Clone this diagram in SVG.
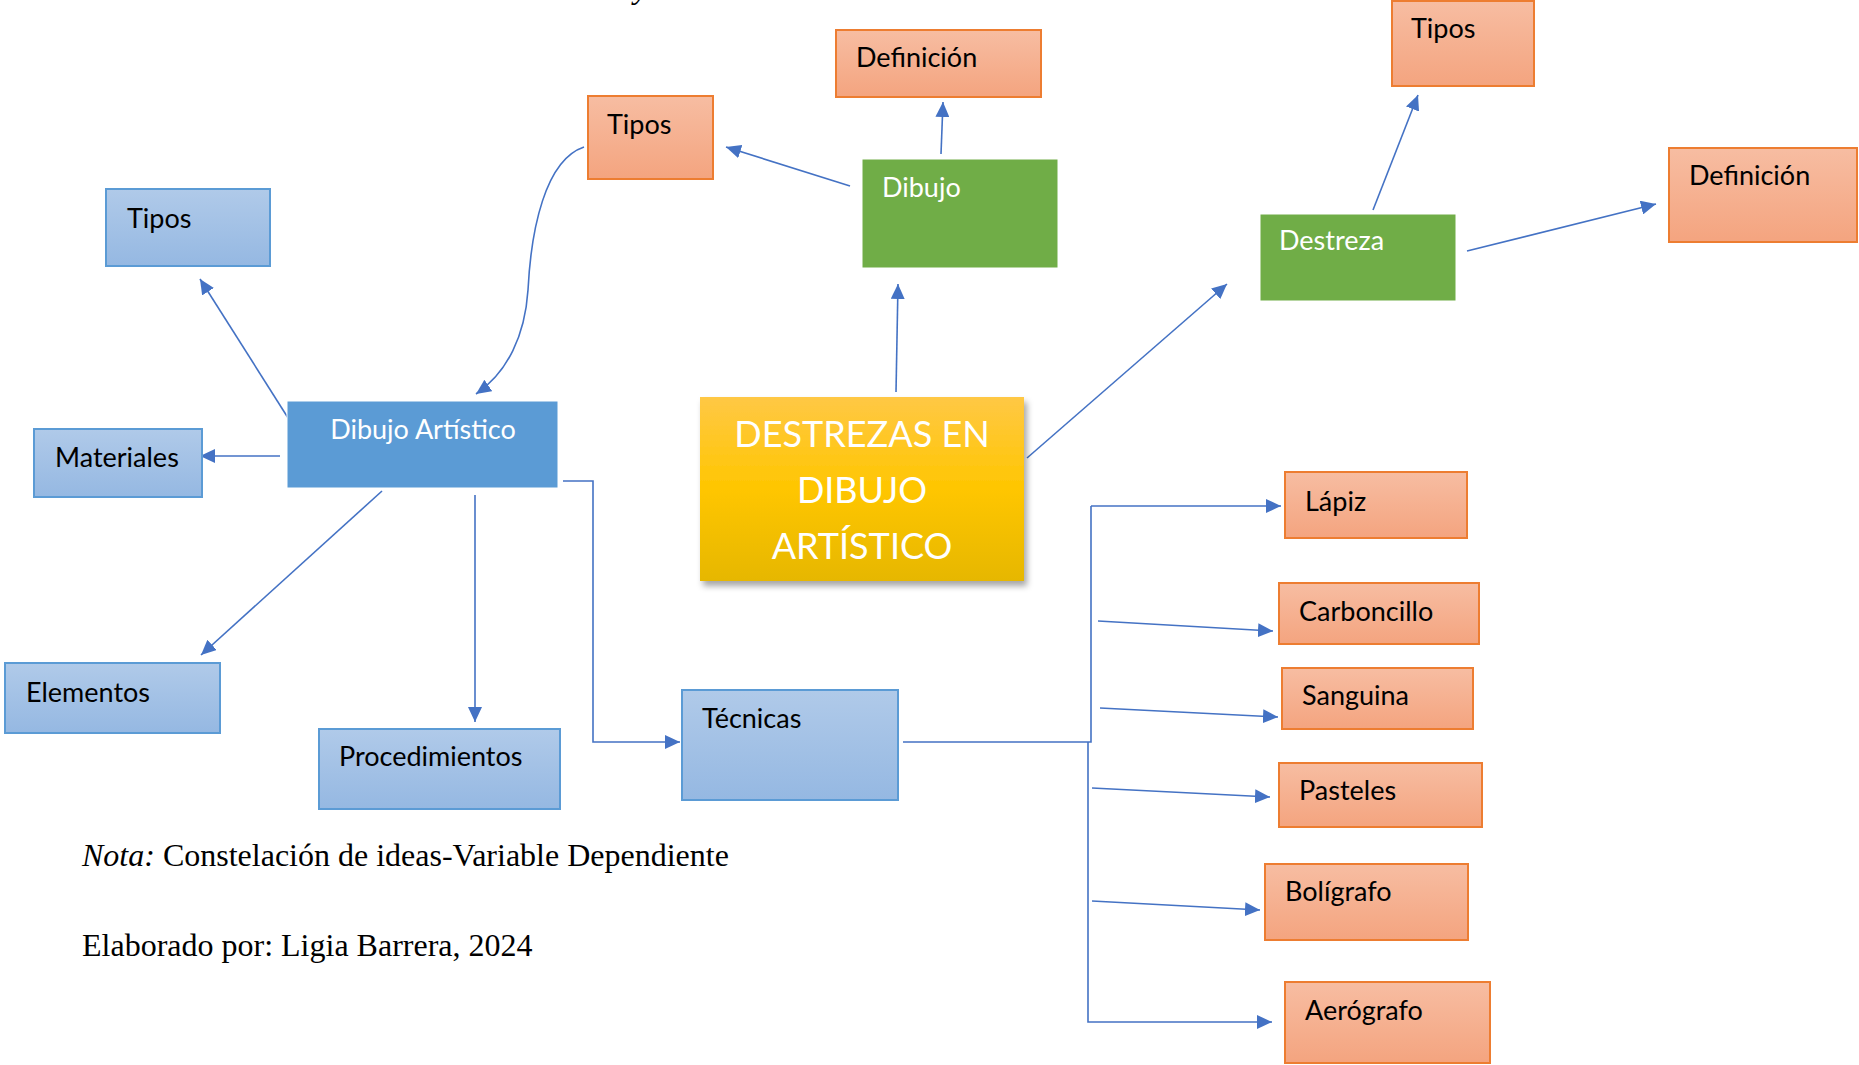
<svg xmlns="http://www.w3.org/2000/svg" width="1859" height="1065" viewBox="0 0 1859 1065">
<style>
.lbl{font-family:Lato,"Open Sans","Liberation Sans",sans-serif;font-size:27px;fill:#000}
.wht{fill:#fff}
.org{fill:url(#gO);stroke:#ED7D31;stroke-width:2}
.blu{fill:url(#gB);stroke:#5B9BD5;stroke-width:2}
.grn{fill:#70AD47;stroke:#fff;stroke-width:1}
.con{fill:none;stroke:#4472C4;stroke-width:1.6}
.arr{marker-end:url(#ah)}
.note{font-family:"Liberation Serif","Times New Roman",serif;font-size:32px;fill:#000}
</style>
<defs>
<linearGradient id="gO" x1="0" y1="0" x2="0" y2="1"><stop offset="0" stop-color="#F7BDA2"/><stop offset="1" stop-color="#F4A47F"/></linearGradient>
<linearGradient id="gB" x1="0" y1="0" x2="0" y2="1"><stop offset="0" stop-color="#B0CAE9"/><stop offset="1" stop-color="#95B8E2"/></linearGradient>
<linearGradient id="gY" x1="0" y1="0" x2="0" y2="1"><stop offset="0" stop-color="#FFC845"/><stop offset="0.5" stop-color="#FFC600"/><stop offset="1" stop-color="#E6B700"/></linearGradient>
<filter id="sh" x="-10%" y="-10%" width="125%" height="130%"><feDropShadow dx="3" dy="5" stdDeviation="3" flood-color="#000" flood-opacity="0.35"/></filter>
<marker id="ah" markerUnits="userSpaceOnUse" markerWidth="16" markerHeight="14" refX="15" refY="7" orient="auto"><path d="M0,0 L15,7 L0,14 z" fill="#4472C4"/></marker>
</defs>
<rect width="1859" height="1065" fill="#fff"/>
<text class="note" x="634" y="-2" font-style="italic">y</text>

<g id="connectors">
<line class="con arr" x1="896" y1="392" x2="898" y2="284"/>
<line class="con arr" x1="941" y1="154" x2="943" y2="102"/>
<line class="con arr" x1="850" y1="186" x2="726" y2="147"/>
<path class="con arr" d="M584,147 C545,160 531,230 528,290 C525,335 508,372 476,394"/>
<line class="con arr" x1="290" y1="421" x2="200" y2="279"/>
<line class="con arr" x1="280" y1="456" x2="200" y2="456"/>
<line class="con arr" x1="382" y1="491" x2="201" y2="655"/>
<line class="con arr" x1="475" y1="495" x2="475" y2="722"/>
<polyline class="con arr" points="563,481 593,481 593,742 680,742"/>
<line class="con arr" x1="1027" y1="458" x2="1227" y2="284"/>
<line class="con arr" x1="1373" y1="210" x2="1418" y2="95"/>
<line class="con arr" x1="1467" y1="251" x2="1656" y2="204"/>
<polyline class="con" points="903,742 1091,742 1091,506"/>
<polyline class="con arr" points="1091,506 1281,506"/>
<polyline class="con arr" points="1088,742 1088,1022 1272,1022"/>
<line class="con arr" x1="1098" y1="621" x2="1273" y2="631"/>
<line class="con arr" x1="1100" y1="708" x2="1278" y2="717"/>
<line class="con arr" x1="1092" y1="788" x2="1270" y2="797"/>
<line class="con arr" x1="1092" y1="901" x2="1260" y2="910"/>
</g>

<g id="n-central"><rect x="700" y="397" width="324" height="184" fill="url(#gY)" filter="url(#sh)"/>
<text font-family="Lato,'Open Sans','Liberation Sans',sans-serif" font-size="36" fill="#fff" text-anchor="middle"><tspan x="862" y="447">DESTREZAS EN</tspan><tspan x="862" y="503">DIBUJO</tspan><tspan x="862" y="559">ARTÍSTICO</tspan></text></g>

<g id="n-dibujo"><rect class="grn" x="862" y="159" width="196" height="109"/><text class="lbl wht" x="882" y="197">Dibujo</text></g>
<g id="n-def1"><rect class="org" x="836" y="30" width="205" height="67"/><text class="lbl" x="856" y="67">Definición</text></g>
<g id="n-tipos1"><rect class="org" x="588" y="96" width="125" height="83"/><text class="lbl" x="607" y="134">Tipos</text></g>

<g id="n-destreza"><rect class="grn" x="1260" y="214" width="196" height="87"/><text class="lbl wht" x="1279" y="250">Destreza</text></g>
<g id="n-tipos2"><rect class="org" x="1392" y="1" width="142" height="85"/><text class="lbl" x="1411" y="38">Tipos</text></g>
<g id="n-def2"><rect class="org" x="1669" y="148" width="188" height="94"/><text class="lbl" x="1689" y="185">Definición</text></g>

<g id="n-da"><rect x="287" y="401" width="271" height="87" fill="#5B9BD5" stroke="#fff" stroke-width="1"/><text class="lbl wht" x="423" y="439" text-anchor="middle">Dibujo Artístico</text></g>
<g id="n-tipos3"><rect class="blu" x="106" y="189" width="164" height="77"/><text class="lbl" x="127" y="228">Tipos</text></g>
<g id="n-materiales"><rect class="blu" x="34" y="429" width="168" height="68"/><text class="lbl" x="55" y="467">Materiales</text></g>
<g id="n-elementos"><rect class="blu" x="5" y="663" width="215" height="70"/><text class="lbl" x="26" y="702">Elementos</text></g>
<g id="n-proc"><rect class="blu" x="319" y="729" width="241" height="80"/><text class="lbl" x="339" y="766">Procedimientos</text></g>
<g id="n-tecnicas"><rect class="blu" x="682" y="690" width="216" height="110"/><text class="lbl" x="702" y="728">Técnicas</text></g>

<g id="n-lapiz"><rect class="org" x="1285" y="472" width="182" height="66"/><text class="lbl" x="1305" y="511">Lápiz</text></g>
<g id="n-carb"><rect class="org" x="1279" y="583" width="200" height="61"/><text class="lbl" x="1299" y="621">Carboncillo</text></g>
<g id="n-sang"><rect class="org" x="1282" y="668" width="191" height="61"/><text class="lbl" x="1302" y="705">Sanguina</text></g>
<g id="n-past"><rect class="org" x="1279" y="763" width="203" height="64"/><text class="lbl" x="1299" y="800">Pasteles</text></g>
<g id="n-boli"><rect class="org" x="1265" y="864" width="203" height="76"/><text class="lbl" x="1285" y="901">Bolígrafo</text></g>
<g id="n-aero"><rect class="org" x="1285" y="982" width="205" height="81"/><text class="lbl" x="1305" y="1020">Aerógrafo</text></g>

<text class="note" x="82" y="866"><tspan font-style="italic">Nota:</tspan> Constelación de ideas-Variable Dependiente</text>
<text class="note" x="82" y="956">Elaborado por: Ligia Barrera, 2024</text>
</svg>
